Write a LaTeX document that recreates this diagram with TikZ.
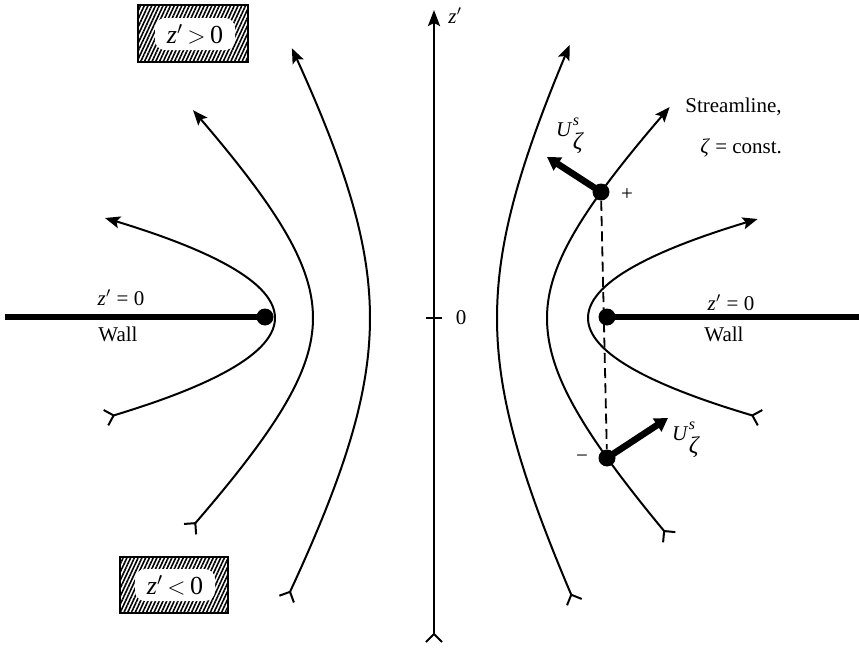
\documentclass[tikz,border=0pt]{standalone}
\usepackage{amsmath}
\usepackage{fontspec}
\setmainfont{Liberation Serif}
\usetikzlibrary{arrows.meta,patterns.meta}
\tikzset{
  barbtail/.tip={Straight Barb[reversed,length=4pt,width=8pt,line width=1pt]},
  headtip/.tip={Stealth[length=7.5pt,width=6pt,inset=1.5pt]},
  flow/.style={line width=1pt,barbtail-headtip},
  dot/.style={circle,fill=black,inner sep=0pt,minimum size=8.5pt},
  wall/.style={line width=2.6pt},
  vel/.style={line width=3.3pt,-{Triangle[length=6.5pt,width=7.5pt]}},
  lbl/.style={font=\fontsize{10.5}{12}\selectfont,inner sep=1pt},
  hatchbox/.style={pattern={Lines[angle=65,distance=1.7pt,line width=0.8pt]},draw=black,line width=1.3pt},
  blob/.style={fill=white,rounded corners=5pt,minimum width=40pt,minimum height=16pt,inner sep=1pt,font=\fontsize{13}{15}\selectfont},
}
\newcommand{\velsym}{\textit{U}\kern0.3pt\raisebox{-0.62em}{\shortstack[l]{\fontsize{8}{8}\selectfont\textit{s}\\[0.5pt]\fontsize{12}{12}\selectfont\textit{ζ}}}}
\begin{document}
\begin{tikzpicture}[x=0.5pt,y=-0.5pt]
\useasboundingbox (0,0) rectangle (859,653);
% axis
\coordinate (axb) at (434,643);
\coordinate (axt) at (434,10);
\draw[line width=1.2pt, barbtail-{Stealth[length=8pt,width=6pt,inset=1.5pt]}] (axb) -- (axt);
\node[lbl,anchor=west] (zax) at (446,16) {\textit{z}$'$};
\coordinate (tickl) at (426,318);
\coordinate (tickr) at (442,318);
\draw[line width=1.2pt] (tickl) -- (tickr);
\node[lbl] (zero) at (461,318) {0};

% streamlines, left
\draw[flow] plot[domain=-100:100,samples=60,variable=\t] ({275-0.017*(\t)*(\t)},{318-\t});
\draw[flow] plot[domain=-1.334:1.3177,samples=80,variable=\u] ({313-120*(cosh(\u)-1)},{318-120*sinh(\u)});
\draw[flow] plot[domain=-1.1438:1.1086,samples=80,variable=\u] ({370-115*(cosh(\u)-1)},{318-200*sinh(\u)});
% streamlines, right
\draw[flow] plot[domain=-1.1525:1.1175,samples=80,variable=\u] ({497+105*(cosh(\u)-1)},{318-200*sinh(\u)});
\draw[flow] plot[domain=-1.3308:1.3299,samples=80,variable=\u] ({547+120*(cosh(\u)-1)},{318-(\u>0?120:125)*sinh(\u)});
\draw[flow] plot[domain=-100:99,samples=60,variable=\t] ({588+0.0173*(\t)*(\t)},{318-\t});

% walls
\node[dot] (wl) at (265,317) {};
\node[dot] (wr) at (607,317) {};
\coordinate (wlend) at (5,317);
\coordinate (wrend) at (859,317);
\draw[wall] (wlend) -- (wl.center);
\draw[wall] (wr.center) -- (wrend);
\node[lbl] (zl) at (121,298) {\textit{z}$'$ = 0};
\node[lbl] (wall1) at (118,334) {Wall};
\node[lbl] (zr) at (731,303) {\textit{z}$'$ = 0};
\node[lbl] (wall2) at (724,334) {Wall};

% points on streamline
\node[dot] (pplus) at (601,192) {};
\node[dot] (pminus) at (607,458) {};
\draw[line width=0.9pt,dash pattern=on 5pt off 2.6pt] (pplus) -- (pminus);
\coordinate (uptip) at (547,157);
\coordinate (dntip) at (668,418);
\draw[vel] (pplus.center) -- (uptip);
\draw[vel] (pminus.center) -- (dntip);
\node[lbl] (uup) at (570,136) {\velsym};
\node[lbl] (udn) at (686,440) {\velsym};
\node[lbl] (plus) at (627,195) {+};
\node[lbl] (minus) at (582,459) {−};
\node[lbl,anchor=west] (sl1) at (683,107) {Streamline,};
\node[lbl,anchor=west] (sl2) at (698,148) {\textit{ζ} = const.};

% region boxes
\path[hatchbox] (138,5) rectangle (248,62);
\node[blob] (bpos) at (195,34) {\textit{z}$'$\,$>$\,0};
\path[hatchbox] (120,557) rectangle (228,613);
\node[blob] (bneg) at (175,585) {\textit{z}$'$\,$<$\,0};
\end{tikzpicture}
\end{document}
